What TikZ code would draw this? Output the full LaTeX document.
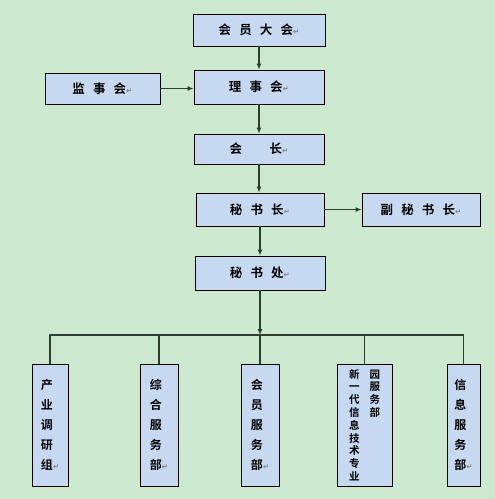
\documentclass[tikz,border=0pt]{standalone}
\usepackage{fontspec}
\usetikzlibrary{arrows.meta}

\newfontfamily\cjk{Noto Sans CJK SC}[BoldFont={Noto Sans CJK SC Bold}]
\newfontfamily\simbolo{DejaVu Sans}
\newcommand{\enter}{{\simbolo\color{gray}\fontsize{7.5}{8}\selectfont ↵}}
\newcommand{\kg}{\hspace{0.65em}}

\definecolor{fundo}{RGB}{204,232,207}
\definecolor{azul}{RGB}{198,217,241}
\definecolor{linha}{RGB}{45,62,45}

\tikzset{
  caixa/.style={draw=black, line width=0.9pt, fill=azul, inner sep=0pt,
    font=\cjk\bfseries\fontsize{12.5}{14}\selectfont},
  coluna/.style={caixa, align=left, minimum height=122,
    font=\cjk\bfseries\fontsize{12}{20}\selectfont},
  seta/.style={draw=linha, line width=1.1pt, -{Latex[length=6pt,width=5pt]}},
  ramo/.style={draw=linha, line width=1.1pt},
}

\begin{document}
\begin{tikzpicture}[x=1pt,y=-1pt]
  % fundo
  \fill[fundo] (0,0) rectangle (495,499);
  \useasboundingbox (0,0) rectangle (495,499);

  % caixas de cima
  \node[caixa, minimum width=132, minimum height=32] (dahui) at (259,30) {会\kg 员\kg 大\kg 会\enter};
  \node[caixa, minimum width=130, minimum height=34] (lishi) at (259,87) {理\kg 事\kg 会\enter};
  \node[caixa, minimum width=115, minimum height=31] (jianshi) at (102.5,88.5) {监\kg 事\kg 会\enter};
  \node[caixa, minimum width=130, minimum height=30] (huizhang) at (259,149) {会\hspace{2.2em}长\enter};
  \node[caixa, minimum width=128, minimum height=33] (mishuzhang) at (260,209.5) {秘\kg 书\kg 长\enter};
  \node[caixa, minimum width=118, minimum height=33] (fumishu) at (421,209.5) {副\kg 秘\kg 书\kg 长\enter};
  \node[caixa, minimum width=130, minimum height=34] (mishuchu) at (260,273) {秘\kg 书\kg 处\enter};

  % caixas de baixo
  \node[coluna, minimum width=36] (b1) at (50,425) {产\\业\\调\\研\\组\enter};
  \node[coluna, minimum width=38] (b2) at (159,425) {综\\合\\服\\务\\部\enter};
  \node[coluna, minimum width=38] (b3) at (260,425) {会\\员\\服\\务\\部\enter};
  \node[caixa, minimum width=55, minimum height=122,
    font=\cjk\bfseries\fontsize{10.5}{12.8}\selectfont] (b4) at (364.5,425)
    {\vtop{\hbox{新}\hbox{一}\hbox{代}\hbox{信}\hbox{息}\hbox{技}\hbox{术}\hbox{专}\hbox{业}}%
     \hspace{10pt}%
     \vtop{\hbox{园}\hbox{服}\hbox{务}\hbox{部}}};
  \node[coluna, minimum width=33] (b5) at (463.5,425) {信\\息\\服\\务\\部\enter};

  % ligacoes
  \coordinate (bus) at (260,335);
  \draw[seta] (dahui.south) -- (dahui.south |- lishi.north);
  \draw[seta] (jianshi.east) -- (jianshi.east -| lishi.west);
  \draw[seta] (lishi.south) -- (lishi.south |- huizhang.north);
  \draw[seta] (huizhang.south) -- (huizhang.south |- mishuzhang.north);
  \draw[seta] (mishuzhang.east) -- (mishuzhang.east -| fumishu.west);
  \draw[seta] (mishuzhang.south) -- (mishuzhang.south |- mishuchu.north);
  \draw[seta] (mishuchu.south) -- (bus);
  \draw[ramo] (b1.north) |- (bus) -| (b5.north);
  \draw[ramo] (b2.north) -- (b2.north |- bus);
  \draw[ramo] (b3.north) -- (b3.north |- bus);
  \draw[ramo] (b4.north) -- (b4.north |- bus);
\end{tikzpicture}
\end{document}
